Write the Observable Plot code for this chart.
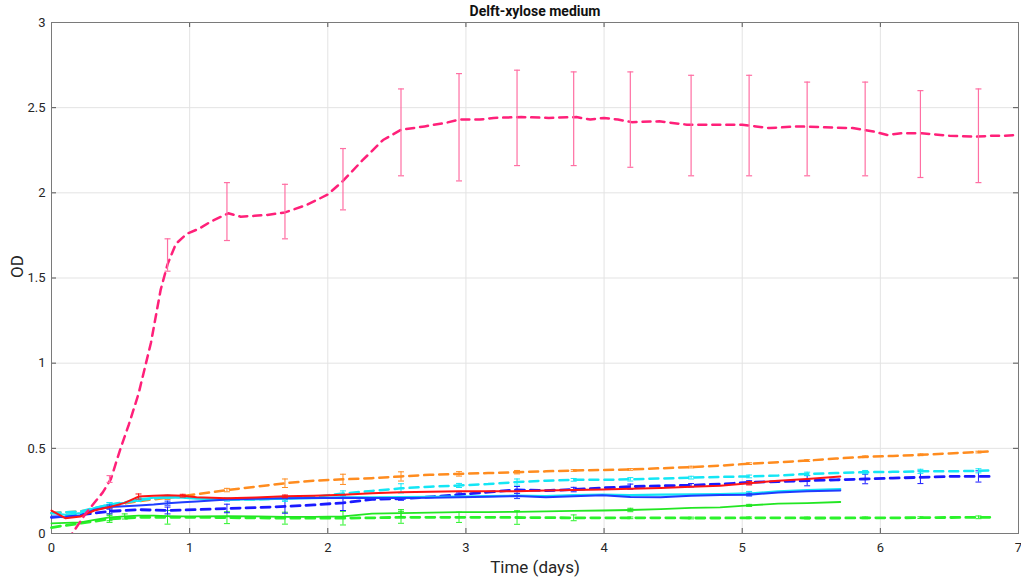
<!DOCTYPE html>
<html>
<head>
<meta charset="utf-8">
<script src="https://cdn.jsdelivr.net/npm/d3@7"></script>
<script src="https://cdn.jsdelivr.net/npm/@observablehq/plot@0.6"></script>
<style>
  html, body { margin: 0; padding: 0; background: #fff; }
  #chart svg { display: block; }
</style>
</head>
<body>
<div id="chart"></div>
<script>
// ---- Text ----
const title = "Delft-xylose medium";
const xLabel = "Time (days)";
const yLabel = "OD";
const xTicks = [0, 1, 2, 3, 4, 5, 6, 7];
const yTicks = [0, 0.5, 1, 1.5, 2, 2.5, 3];

// ---- Pink dashed series (high OD) ----
const pinkT = [0.05,0.15,0.25,0.37,0.43,0.5,0.56,0.63,0.72,0.79,0.84,0.9,0.98,1.07,1.15,1.28,1.37,1.47,1.56,1.69,1.85,2.0,2.11,2.25,2.4,2.53,2.7,2.85,2.95,3.1,3.2,3.4,3.6,3.8,3.9,4.0,4.1,4.2,4.4,4.6,4.8,5.0,5.1,5.2,5.4,5.6,5.8,5.95,6.05,6.15,6.3,6.5,6.7,6.8,6.9,7.0];
const pinkY = [-0.1,0.0,0.12,0.24,0.32,0.5,0.64,0.82,1.12,1.43,1.58,1.70,1.76,1.79,1.83,1.88,1.86,1.865,1.87,1.885,1.93,1.99,2.07,2.19,2.31,2.37,2.39,2.41,2.43,2.43,2.44,2.445,2.44,2.445,2.43,2.44,2.43,2.415,2.42,2.40,2.40,2.40,2.39,2.38,2.39,2.385,2.38,2.36,2.34,2.35,2.35,2.335,2.33,2.335,2.335,2.34];
const pinkErrT  = [0.42,0.84,1.27,1.69,2.11,2.53,2.95,3.37,3.78,4.19,4.63,5.05,5.47,5.89,6.29,6.71];
const pinkErrLo = [0.30,1.54,1.72,1.73,1.90,2.10,2.07,2.16,2.16,2.15,2.10,2.10,2.10,2.10,2.09,2.06];
const pinkErrHi = [0.34,1.73,2.06,2.05,2.26,2.61,2.70,2.72,2.71,2.71,2.69,2.69,2.65,2.65,2.60,2.61];

// ---- Dashed low series: shared sampling times ----
const dashT = [0,0.21,0.42,0.63,0.84,1.05,1.27,1.48,1.69,1.9,2.11,2.32,2.53,2.74,2.95,3.16,3.37,3.58,3.78,3.99,4.19,4.41,4.63,4.84,5.05,5.26,5.47,5.68,5.89,6.09,6.29,6.5,6.71,6.8];
const dashErrT = [0.42,0.84,1.27,1.69,2.11,2.53,2.95,3.37,3.78,4.19,4.63,5.05,5.47,5.89,6.29,6.71];

const orangeY = [0.12,0.13,0.16,0.19,0.21,0.23,0.255,0.275,0.295,0.31,0.318,0.325,0.335,0.345,0.35,0.355,0.36,0.365,0.37,0.373,0.376,0.383,0.39,0.398,0.41,0.418,0.428,0.44,0.45,0.455,0.462,0.47,0.478,0.482];
const orangeErr = [0.01,0.01,0.01,0.025,0.03,0.027,0.013,0.01,0.005,0.005,0.005,0.005,0.005,0.005,0.005,0.005];

const cyanDashY = [0.12,0.13,0.17,0.195,0.215,0.21,0.2,0.2,0.205,0.215,0.235,0.25,0.265,0.275,0.282,0.29,0.302,0.31,0.315,0.315,0.318,0.323,0.328,0.332,0.335,0.34,0.35,0.355,0.36,0.362,0.365,0.365,0.368,0.37];
const cyanDashErr = [0.01,0.01,0.01,0.015,0.015,0.027,0.012,0.018,0.008,0.01,0.008,0.008,0.01,0.01,0.012,0.012];

const blueDashY = [0.095,0.11,0.13,0.14,0.135,0.14,0.147,0.152,0.159,0.168,0.18,0.2,0.205,0.215,0.228,0.243,0.256,0.252,0.258,0.268,0.275,0.28,0.283,0.29,0.3,0.305,0.31,0.315,0.32,0.325,0.33,0.335,0.335,0.335];
const blueDashErr = [0.015,0.02,0.025,0.04,0.045,0.01,0.01,0.02,0.013,0.015,0.01,0.01,0.03,0.028,0.037,0.033];

const greenDashY = [0.035,0.06,0.085,0.095,0.095,0.095,0.093,0.092,0.09,0.09,0.09,0.092,0.095,0.095,0.095,0.095,0.094,0.093,0.092,0.092,0.092,0.092,0.091,0.091,0.092,0.092,0.091,0.091,0.092,0.092,0.093,0.094,0.095,0.095];
const greenDashErr = [0.02,0.04,0.035,0.035,0.04,0.035,0.03,0.04,0.017,0.005,0.005,0.005,0.005,0.005,0.005,0.008];

// ---- Solid low series: shared sampling times ----
const solidT = [0,0.1,0.21,0.31,0.42,0.53,0.63,0.74,0.84,0.95,1.05,1.27,1.48,1.69,1.9,2.11,2.32,2.53,2.74,2.95,3.16,3.37,3.58,3.78,3.99,4.19,4.41,4.63,4.84,5.05,5.26,5.47,5.71];

const redY = [0.135,0.09,0.1,0.135,0.155,0.18,0.217,0.222,0.225,0.222,0.213,0.207,0.212,0.218,0.222,0.228,0.237,0.242,0.245,0.248,0.248,0.248,0.252,0.255,0.258,0.262,0.267,0.275,0.28,0.295,0.31,0.32,0.335];
const redErrT = [0.63,0.95,1.69,5.05];
const redErr  = [0.015,0.008,0.008,0.01];

const cyanY = [0.12,0.11,0.12,0.15,0.17,0.18,0.2,0.21,0.213,0.21,0.205,0.2,0.2,0.205,0.208,0.212,0.212,0.213,0.215,0.217,0.22,0.222,0.22,0.225,0.228,0.225,0.228,0.23,0.232,0.235,0.248,0.255,0.26];
const cyanErrT = [0.42,0.63,1.69,5.05];
const cyanErr  = [0.012,0.012,0.015,0.012];

const blueY = [0.1,0.095,0.105,0.14,0.155,0.16,0.165,0.17,0.178,0.184,0.188,0.2,0.204,0.207,0.208,0.21,0.208,0.208,0.21,0.213,0.216,0.22,0.213,0.218,0.225,0.215,0.213,0.222,0.226,0.228,0.24,0.248,0.252];
const blueErrT = [0.42,0.84,3.37,5.05];
const blueErr  = [0.012,0.012,0.015,0.008];

const greenY = [0.06,0.062,0.065,0.08,0.095,0.1,0.105,0.105,0.102,0.1,0.1,0.102,0.1,0.098,0.098,0.1,0.117,0.12,0.122,0.125,0.125,0.127,0.13,0.133,0.135,0.138,0.143,0.15,0.153,0.165,0.175,0.178,0.185];
const greenErrT = [0.42,0.53,2.53,4.19,5.05];
const greenErr  = [0.02,0.015,0.02,0.01,0.006];

// ---- Colours ----
const cPink = "#ff2079", cPinkErr = "#ff6fa3";
const cOrange = "#ff8c1f";
const cCyan = "#14e6f5";
const cBlue = "#1a1aff";
const cBlueSolid = "#1f3cff";
const cRed = "#ff1414";
const cGreen = "#22e622";
const cGreenDash = "#2af22a";

// ---- Helpers ----
const rows = (T, Y) => T.map((t, i) => ({t, v: Y[i]}));
const errRows = (T, Y, ET, half) => ET.map((t, i) => {
  const c = Y[T.indexOf(t)];
  return {t, lo: c - half[i], hi: c + half[i]};
});
const capSymbol = {
  draw(context, size) {
    const w = Math.sqrt(size / Math.PI);
    context.moveTo(-w, 0);
    context.lineTo(w, 0);
  }
};
function errMarks(data, color, sw = 1) {
  return [
    Plot.ruleX(data, {x: "t", y1: "lo", y2: "hi", stroke: color, strokeWidth: sw}),
    Plot.dot(data, {x: "t", y: "lo", symbol: capSymbol, r: 3, stroke: color, strokeWidth: sw}),
    Plot.dot(data, {x: "t", y: "hi", symbol: capSymbol, r: 3, stroke: color, strokeWidth: sw})
  ];
}

const W = 1021, H = 583;
const mL = 51, mR = 3, mT = 22, mB = 50;
const frameW = W - mL - mR, frameH = H - mT - mB;
const tick = 5;

const pinkErr = pinkErrT.map((t, i) => ({t, lo: pinkErrLo[i], hi: pinkErrHi[i]}));

const chart = Plot.plot({
  width: W, height: H,
  marginLeft: mL, marginRight: mR, marginTop: mT, marginBottom: mB,
  x: {domain: [0, 7]},
  y: {domain: [0, 3]},
  style: {fontFamily: "Roboto, 'DejaVu Sans', sans-serif", fontSize: "13px", color: "#262626", background: "#fff"},
  marks: [
    Plot.gridX(xTicks, {stroke: "#e3e3e3", strokeOpacity: 1}),
    Plot.gridY(yTicks, {stroke: "#e3e3e3", strokeOpacity: 1}),
    // inner ticks on all four sides
    Plot.tickX(xTicks, {x: d => d, insetTop: frameH - tick, stroke: "#555"}),
    Plot.tickX(xTicks, {x: d => d, insetBottom: frameH - tick, stroke: "#555"}),
    Plot.tickY(yTicks, {y: d => d, insetRight: frameW - tick, stroke: "#555"}),
    Plot.tickY(yTicks, {y: d => d, insetLeft: frameW - tick, stroke: "#555"}),
    Plot.frame({stroke: "#7a7a7a"}),
    Plot.axisX(xTicks, {tickSize: 0, tickPadding: 9, label: null, tickFormat: d => String(d)}),
    Plot.axisY(yTicks, {tickSize: 0, tickPadding: 6, label: null, tickFormat: d => String(d)}),

    // green
    Plot.line(rows(dashT, greenDashY), {x: "t", y: "v", stroke: cGreenDash, strokeWidth: 2.8, strokeDasharray: "9,6"}),
    ...errMarks(errRows(dashT, greenDashY, dashErrT, greenDashErr), cGreenDash),
    Plot.line(rows(solidT, greenY), {x: "t", y: "v", stroke: cGreen, strokeWidth: 1.8}),
    ...errMarks(errRows(solidT, greenY, greenErrT, greenErr), cGreen),
    // blue dashed
    Plot.line(rows(dashT, blueDashY), {x: "t", y: "v", stroke: cBlue, strokeWidth: 2.8, strokeDasharray: "9,6"}),
    ...errMarks(errRows(dashT, blueDashY, dashErrT, blueDashErr), cBlue),
    // orange dashed
    Plot.line(rows(dashT, orangeY), {x: "t", y: "v", stroke: cOrange, strokeWidth: 2.5, strokeDasharray: "9,6"}),
    ...errMarks(errRows(dashT, orangeY, dashErrT, orangeErr), cOrange),
    // cyan dashed
    Plot.line(rows(dashT, cyanDashY), {x: "t", y: "v", stroke: cCyan, strokeWidth: 2.5, strokeDasharray: "9,6"}),
    ...errMarks(errRows(dashT, cyanDashY, dashErrT, cyanDashErr), cCyan),
    // cyan solid
    Plot.line(rows(solidT, cyanY), {x: "t", y: "v", stroke: cCyan, strokeWidth: 2.2}),
    ...errMarks(errRows(solidT, cyanY, cyanErrT, cyanErr), cCyan),
    // blue solid
    Plot.line(rows(solidT, blueY), {x: "t", y: "v", stroke: cBlueSolid, strokeWidth: 2}),
    ...errMarks(errRows(solidT, blueY, blueErrT, blueErr), cBlueSolid),
    // red solid
    Plot.line(rows(solidT, redY), {x: "t", y: "v", stroke: cRed, strokeWidth: 2}),
    ...errMarks(errRows(solidT, redY, redErrT, redErr), cRed),
    // pink dashed
    Plot.line(rows(pinkT, pinkY), {x: "t", y: "v", stroke: cPink, strokeWidth: 2.5, strokeDasharray: "8,6", clip: true}),
    ...errMarks(pinkErr, cPinkErr, 1.2),

    // titles
    Plot.text([title], {frameAnchor: "top", lineAnchor: "middle", dy: -11, fontWeight: "bold", fontSize: 14, fill: "#111"}),
    Plot.text([xLabel], {frameAnchor: "bottom", lineAnchor: "middle", dy: 34, fontSize: 17, fill: "#262626"}),
    Plot.text([yLabel], {frameAnchor: "left", lineAnchor: "middle", dx: -34, rotate: -90, fontSize: 17, fill: "#262626"})
  ]
});
document.getElementById("chart").appendChild(chart);
</script>
</body>
</html>
